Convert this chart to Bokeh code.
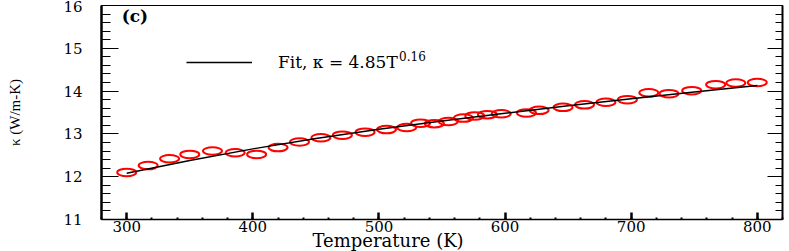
from bokeh.plotting import figure
from bokeh.models import (Range1d, SingleIntervalTicker, LinearAxis, Label, Legend,
                          LegendItem, CustomJSTickFormatter, Title)
from bokeh.embed import file_html
from bokeh.resources import INLINE

# ---- data ----
temp_K = [300, 317, 334, 350, 368, 386, 403, 420, 437, 454, 471, 489, 506, 522, 533,
          544, 555, 567, 576, 586, 597, 617, 627, 646, 663, 680, 697, 714, 730, 748,
          767, 783, 800]
kappa = [12.10, 12.26, 12.42, 12.52, 12.60, 12.56, 12.52, 12.68, 12.81, 12.91, 12.97,
         13.04, 13.10, 13.15, 13.25, 13.24, 13.29, 13.37, 13.42, 13.45, 13.47, 13.49,
         13.55, 13.62, 13.68, 13.74, 13.80, 13.96, 13.94, 14.01, 14.15, 14.19, 14.20]
fit_T = [300, 350, 400, 450, 500, 550, 600, 650, 700, 750, 800]
fit_kappa = [12.08, 12.38, 12.65, 12.89, 13.11, 13.30, 13.48, 13.66, 13.82, 13.98, 14.13]
legend_text = "Fit, κ = 4.85T"
legend_sup = "0.16"
panel_tag = "(c)"
x_title = "Temperature (K)"
y_title = "κ (W/m-K)"

FONT = "DejaVu Serif"

p = figure(width=789, height=251, x_range=Range1d(280, 820), y_range=Range1d(11, 16),
           output_backend="svg", toolbar_location=None,
           min_border_left=101, min_border_right=7, min_border_top=5, min_border_bottom=32,
           background_fill_color="white", border_fill_color="white")
p.xgrid.visible = False
p.ygrid.visible = False
p.outline_line_color = "black"
p.outline_line_width = 1

xax = p.xaxis[0]
yax = p.yaxis[0]
xax.ticker = SingleIntervalTicker(interval=100, num_minor_ticks=5)
yax.ticker = SingleIntervalTicker(interval=1, num_minor_ticks=5)

right = LinearAxis(ticker=SingleIntervalTicker(interval=1, num_minor_ticks=5),
                   formatter=CustomJSTickFormatter(code="return ''"))
p.add_layout(right, "right")

for ax in [xax, yax, right]:
    ax.axis_line_color = "black"
    ax.major_tick_out = 0
    ax.minor_tick_out = 0
    ax.major_tick_line_color = "black"
    ax.minor_tick_line_color = "black"
    ax.major_label_text_font = FONT
    ax.major_label_text_font_size = "15px"
    ax.major_label_text_color = "black"

xax.axis_line_width = 1.5
xax.major_tick_in = 7
xax.minor_tick_in = 2
xax.major_tick_line_width = 2.5
xax.minor_tick_line_width = 2
xax.major_label_standoff = 1

yax.axis_line_width = 2.5
yax.major_tick_in = 17
yax.minor_tick_in = 9
yax.major_tick_line_width = 1
yax.minor_tick_line_width = 1
yax.major_label_standoff = 19
yax.axis_label = y_title
yax.axis_label_text_font = "Liberation Serif"
yax.axis_label_text_font_size = "15px"
yax.axis_label_text_font_style = "normal"
yax.axis_label_text_color = "black"
yax.axis_label_standoff = 37

right.axis_line_width = 2
right.major_tick_in = 15
right.minor_tick_in = 7
right.major_tick_line_width = 1
right.minor_tick_line_width = 1
right.major_label_standoff = 0
right.major_label_text_color = None

p.add_layout(Title(text=x_title, align="left", offset=211, standoff=-13,
                   text_font=FONT, text_font_size="18px", text_font_style="normal",
                   text_color="black"), "below")

p.ellipse(temp_K, kappa, width=19, height=7.5, width_units="screen",
          height_units="screen", fill_color=None, line_color="red", line_width=2)
fit = p.line(fit_T, fit_kappa, line_color="black", line_width=1.5)

legend = Legend(items=[LegendItem(label=legend_text, renderers=[fit])],
                location=(85, 147), padding=0, margin=0, spacing=0,
                glyph_width=66, glyph_height=20, label_height=20, label_standoff=26,
                label_text_font=FONT, label_text_font_size="17px",
                label_text_color="black",
                background_fill_alpha=0, border_line_alpha=0)
p.add_layout(legend)

p.add_layout(Label(x=516, y=14.81, text=legend_sup, text_font=FONT,
                   text_font_size="12px", text_baseline="middle", text_color="black"))
p.add_layout(Label(x=296, y=15.75, text=panel_tag, text_font=FONT, text_font_style="bold",
                   text_font_size="17px", text_baseline="middle", text_color="black"))

open("out.html", "w").write(file_html(p, INLINE))
